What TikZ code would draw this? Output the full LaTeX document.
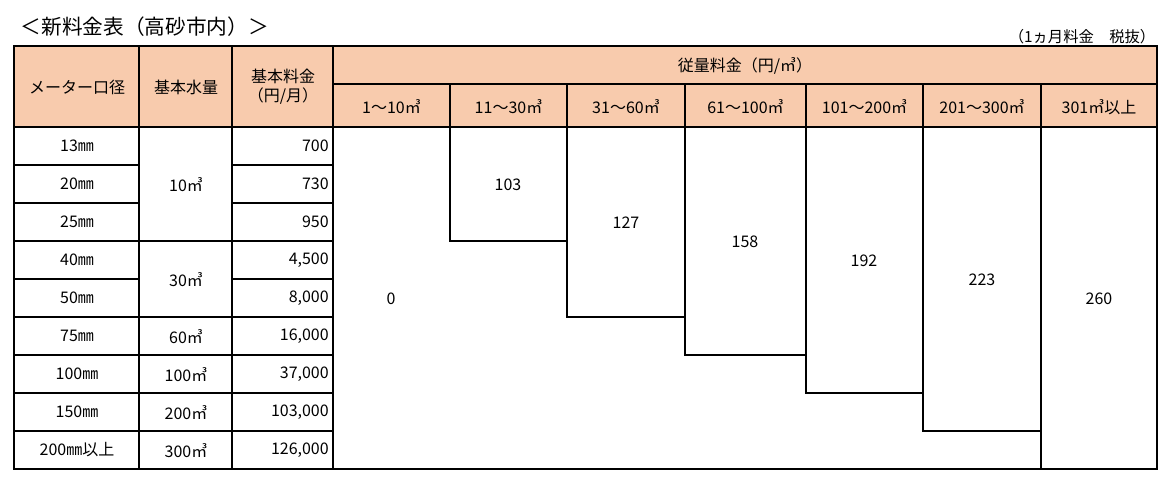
\documentclass[tikz,border=0pt]{standalone}
\usepackage{fontspec}
\setmainfont{Noto Sans CJK JP}
\usepackage{tikz}
\definecolor{headfill}{HTML}{F8CBAD}
\begin{document}
\begin{tikzpicture}[
  x=0.75pt, y=-0.75pt,
  font=\fontsize{12}{14}\selectfont,
  grid/.style={line width=0.8pt},
  cell/.style={inner sep=0pt, align=center},
  num/.style={inner sep=0pt, anchor=east}
]
\useasboundingbox (0,0) rectangle (1167,481);

% header background
\fill[headfill] (14,46) rectangle (1157,127);

% title and note
\node[anchor=west, font=\fontsize{15.5}{17}\selectfont] (title) at (16,27) {＜新料金表（高砂市内）＞};
\node[anchor=east, font=\fontsize{11.5}{13}\selectfont] (note) at (1160,37) {（1ヵ月料金　税抜）};

% header texts
\node[cell] (h_meter) at (77,87) {メーター口径};
\node[cell] (h_water) at (186,87) {基本水量};
\node[cell] (h_base) at (283,87) {基本料金\\（円/月）};
\node[cell] (h_usage) at (745,66) {従量料金（円/㎥）};
\foreach \xa/\xb/\t [count=\i] in {333/450/1～10㎥, 450/567/11～30㎥, 567/685/31～60㎥,
  685/806/61～100㎥, 806/923/101～200㎥, 923/1041/201～300㎥, 1041/1157/301㎥以上}
  \node[cell] (h_tier\i) at ({(\xa+\xb)/2},107) {\t};

% rows: diameter and base charge
\foreach \d/\c [count=\i] in {13㎜/700, 20㎜/730, 25㎜/950, 40㎜/{4,500}, 50㎜/{8,000},
  75㎜/{16,000}, 100㎜/{37,000}, 150㎜/{103,000}, 200㎜以上/{126,000}} {
  \node[cell] (dia\i) at (77,{127+38*\i-19}) {\d};
  \node[num] (fee\i) at (329,{127+38*\i-19}) {\c};
}

% base volume
\node[cell] (vol1) at (186,185) {10㎥};
\node[cell] (vol2) at (186,280) {30㎥};
\node[cell] (vol3) at (186,337) {60㎥};
\node[cell] (vol4) at (186,375) {100㎥};
\node[cell] (vol5) at (186,413) {200㎥};
\node[cell] (vol6) at (186,451) {300㎥};

% usage charges
\node[cell] (rate1) at (391,299) {0};
\node[cell] (rate2) at (508,185) {103};
\node[cell] (rate3) at (626,223) {127};
\node[cell] (rate4) at (745,242) {158};
\node[cell] (rate5) at (864,261) {192};
\node[cell] (rate6) at (982,280) {223};
\node[cell] (rate7) at (1099,299) {260};

% grid lines
\draw[grid] (14,46) rectangle (1157,469);
\draw[grid] (333,84) -- (1157,84);
\draw[grid] (14,127) -- (1157,127);
\foreach \x in {139,232,333} \draw[grid] (\x,46) -- (\x,469);
\foreach \x in {450,567,685,806,923,1041} \draw[grid] (\x,84) -- (\x,127);
\foreach \y in {165,203,241,279,317,355,393,431} \draw[grid] (14,\y) -- (139,\y);
\foreach \y in {165,203,241,279,317,355,393,431} \draw[grid] (232,\y) -- (333,\y);
\foreach \y in {241,317,355,393,431} \draw[grid] (139,\y) -- (232,\y);
% staircase
\draw[grid] (450,127) -- (450,241) -- (567,241);
\draw[grid] (567,127) -- (567,317) -- (685,317);
\draw[grid] (685,127) -- (685,355) -- (806,355);
\draw[grid] (806,127) -- (806,393) -- (923,393);
\draw[grid] (923,127) -- (923,431) -- (1041,431);
\draw[grid] (1041,127) -- (1041,469);
\end{tikzpicture}
\end{document}
